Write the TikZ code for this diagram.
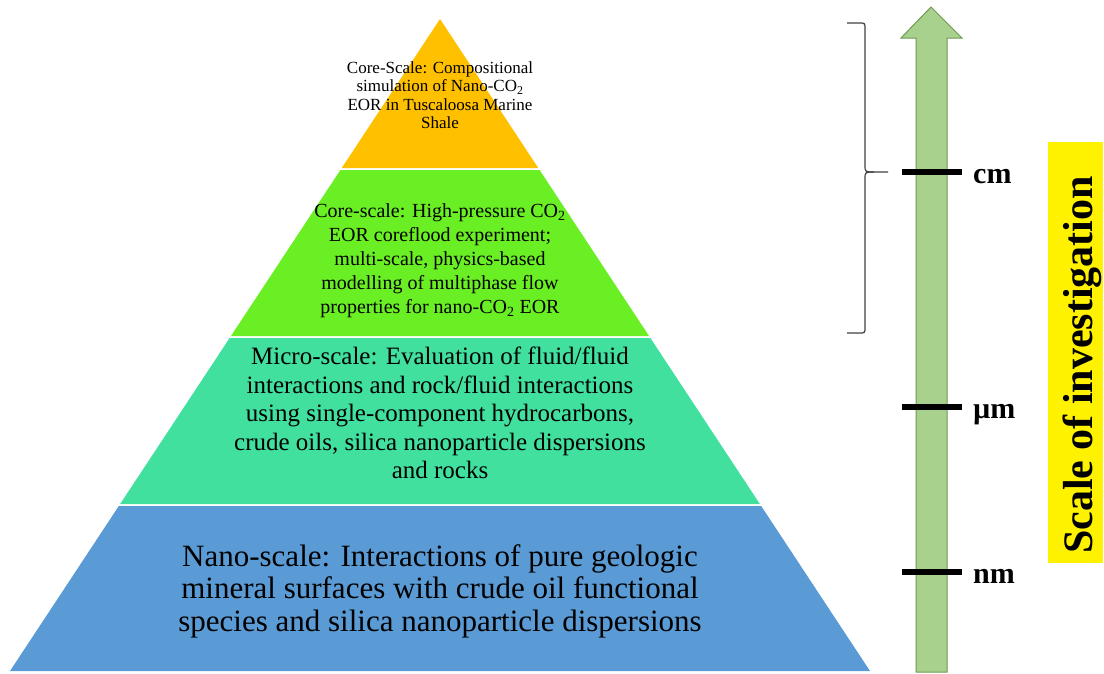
\documentclass[tikz,border=0pt]{standalone}
\usepackage{fontspec}
\setmainfont{Liberation Serif}
\usetikzlibrary{positioning}
\definecolor{coretop}{HTML}{FFC000}
\definecolor{coremid}{HTML}{6AEF24}
\definecolor{microcol}{HTML}{41E09E}
\definecolor{nanocol}{HTML}{5B9BD5}
\definecolor{arrowfill}{HTML}{A9D18E}
\definecolor{arrowline}{HTML}{6E9A52}
\definecolor{bracecol}{HTML}{404040}
\tikzstyle{layertext} = [align=center, inner sep=0pt]
\tikzstyle{scaletick} = [line width=6pt]
\tikzstyle{scalelabel} = [anchor=mid west, inner sep=0pt, font=\fontsize{30}{30}\selectfont\bfseries]

\begin{document}
\begin{tikzpicture}[x=1pt, y=-1pt]
    \useasboundingbox (0,0) rectangle (1104,673);

    % Pyramid layers
    \foreach \yt/\yb/\col in {19/168/coretop, 170/336/coremid, 338/504/microcol, 506/671/nanocol}
        \fill[\col] ({440-(\yt-19)*0.6595},\yt) -- ({440+(\yt-19)*0.6595},\yt)
            -- ({440+(\yb-19)*0.6595},\yb) -- ({440-(\yb-19)*0.6595},\yb) -- cycle;

    % Placing the texts
    \node [layertext, font=\fontsize{17}{18.5}\selectfont] (compsim) at (440,95)
        {Core-Scale: Compositional\\simulation of Nano-CO\textsubscript{2}\\EOR in Tuscaloosa Marine\\Shale};
    \node [layertext, font=\fontsize{20}{24}\selectfont] (coreflood) at (440,261)
        {Core-scale: High-pressure CO\textsubscript{2}\\EOR coreflood experiment;\\multi-scale, physics-based\\modelling of multiphase flow\\properties for nano-CO\textsubscript{2} EOR};
    \node [layertext, font=\fontsize{25}{28.5}\selectfont] (microscale) at (440,413)
        {Micro-scale: Evaluation of fluid/fluid\\interactions and rock/fluid interactions\\using single-component hydrocarbons,\\crude oils, silica nanoparticle dispersions\\and rocks};
    \node [layertext, font=\fontsize{31}{32.5}\selectfont] (nanoscale) at (440,591)
        {Nano-scale: Interactions of pure geologic\\mineral surfaces with crude oil functional\\species and silica nanoparticle dispersions};

    % Brace over the core-scale layers
    \coordinate (bracetop) at (847,23);
    \coordinate (bracetip) at (888,172);
    \coordinate (bracebot) at (847,333);
    \draw [bracecol, line width=1.2pt] (bracetop) -- (859,23) .. controls (865,23) .. (865,29)
        -- (865,165) .. controls (865,172) .. (874,172) -- (bracetip);
    \draw [bracecol, line width=1.2pt] (874,172) .. controls (865,172) .. (865,179)
        -- (865,327) .. controls (865,333) .. (859,333) -- (bracebot);

    % Scale arrow
    \draw [arrowline, fill=arrowfill, line width=1pt] (931,7) -- (962,38) -- (947,38)
        -- (947,672) -- (916,672) -- (916,38) -- (901,38) -- cycle;

    % Ticks and units
    \foreach \y/\name/\unit in {172/cm/cm, 407/um/µm, 572/nm/nm} {
        \coordinate (\name L) at (902,\y);
        \coordinate (\name R) at (962,\y);
        \draw [scaletick] (\name L) -- (\name R);
        \node [scalelabel] (\name) at ([xshift=11pt, yshift=-9pt]\name R) {\unit};
    }

    % Title box
    \fill [yellow] (1048,142) rectangle (1103,563);
    \node [rotate=90, anchor=base, inner sep=0pt, font=\fontsize{42}{42}\selectfont\bfseries] (scaletitle) at (1092,365) {Scale of investigation};
\end{tikzpicture}
\end{document}
